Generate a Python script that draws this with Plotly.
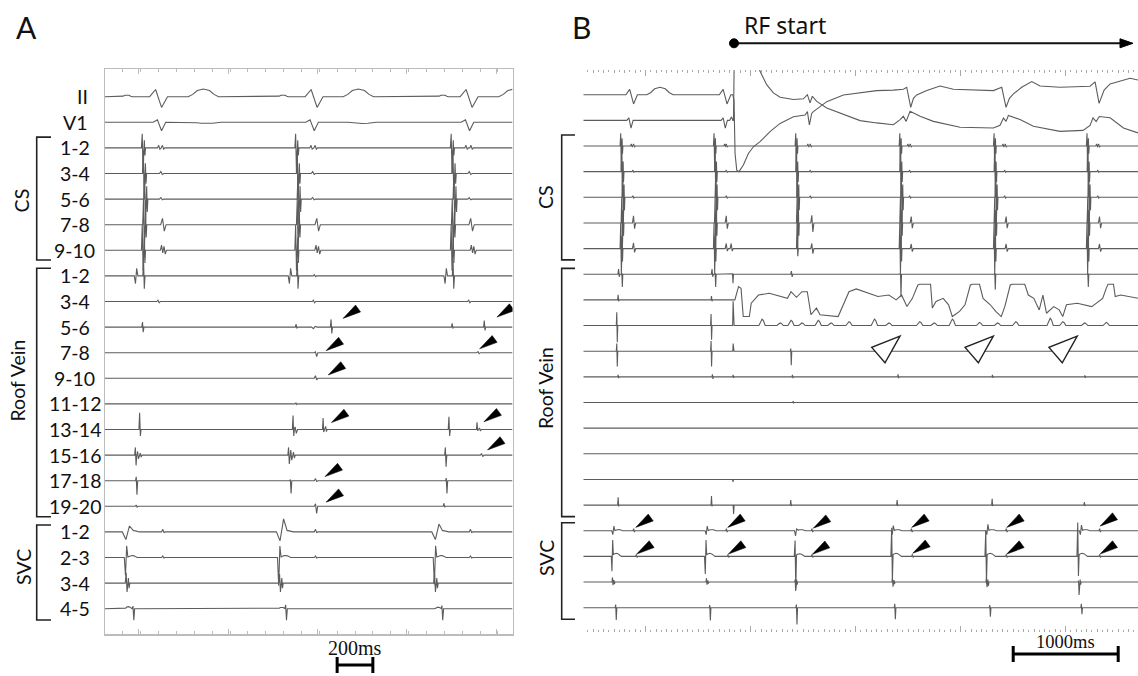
import numpy as np
import plotly.graph_objects as go

W, H = 1138, 676

# ---------------- channel layout ----------------
LABELS = ["II", "V1", "1-2", "3-4", "5-6", "7-8", "9-10",
          "1-2", "3-4", "5-6", "7-8", "9-10", "11-12", "13-14", "15-16", "17-18", "19-20",
          "1-2", "2-3", "3-4", "4-5"]
GROUP_NAMES = ["CS", "Roof Vein", "SVC"]
GROUP_FIRST = [2, 7, 17]
GROUP_LAST = [6, 16, 20]

# events: spike = (t_ms, first_extreme, second_extreme, width_ms); bump = (t_ms, amp, width_ms)
# ---------------- Panel A (sinus rhythm) ----------------
A_II = [(300, 0.28, -0.42, 100), (1171, 0.28, -0.42, 100), (2039, 0.28, -0.42, 100),
        (551, 0.30, 170), (1419, 0.30, 170), (2290, 0.30, 170),
        (123, 0.07, 60), (997, 0.07, 60), (1893, 0.07, 60)]
A_V1 = [(305, 0.10, -0.33, 70), (1160, 0.10, -0.33, 70), (2030, 0.10, -0.33, 70),
        (570, -0.05, 160), (1440, -0.05, 160)]
A_CS12 = [(211, 0.55, -1.0, 14), (222, 0.3, -0.3, 10), (304, 0.10, -0.05, 20), (325, 0.10, -0.05, 20),
          (1070, 0.55, -1.0, 14), (1081, 0.3, -0.3, 10), (1157, 0.10, -0.05, 20), (1180, 0.10, -0.05, 20),
          (1941, 0.55, -1.0, 14), (1952, 0.3, -0.3, 10), (2025, 0.10, -0.05, 20), (2053, 0.10, -0.05, 20)]
A_CS34 = [(217, 0.9, -1.0, 14), (228, 0.4, -0.4, 10), (317, 0.08, -0.04, 25),
          (1079, 0.9, -1.0, 14), (1090, 0.4, -0.4, 10), (1167, 0.08, -0.04, 25),
          (1951, 0.9, -1.0, 14), (1962, 0.4, -0.4, 10), (2044, 0.08, -0.04, 25)]
A_CS56 = [(224, 1.0, -1.0, 14), (235, 0.5, -0.5, 10), (317, 0.06, -0.03, 25),
          (1083, 1.0, -1.0, 14), (1094, 0.5, -0.5, 10), (1167, 0.06, -0.03, 25),
          (1956, 1.0, -1.0, 14), (1967, 0.5, -0.5, 10), (2044, 0.06, -0.03, 25)]
A_CS78 = [(218, 1.0, -1.0, 14), (229, 0.5, -0.5, 10), (327, 0.25, -0.25, 30),
          (1079, 1.0, -1.0, 14), (1090, 0.5, -0.5, 10), (1191, 0.25, -0.25, 30),
          (1947, 1.0, -1.0, 14), (1958, 0.5, -0.5, 10), (2053, 0.25, -0.25, 30)]
A_CS910 = [(211, 1.0, -0.8, 14), (222, 0.5, -0.5, 10), (320, 0.2, -0.1, 20), (334, 0.15, -0.15, 20),
           (1070, 1.0, -0.8, 14), (1081, 0.5, -0.5, 10), (1185, 0.2, -0.1, 20), (1199, 0.15, -0.15, 20),
           (1941, 1.0, -0.8, 14), (1952, 0.5, -0.5, 10), (2055, 0.2, -0.1, 20), (2069, 0.15, -0.15, 20)]
A_R12 = [(174, -0.3, 0.3, 20), (218, 0.6, -0.5, 12), (1036, -0.3, 0.3, 20), (1079, 0.6, -0.5, 12),
         (1176, 0.05, -0.03, 20), (1908, -0.3, 0.3, 20), (1951, 0.6, -0.5, 12)]
A_R34 = [(300, 0.05, -0.05, 20), (1170, 0.05, -0.05, 20), (2040, 0.05, -0.05, 20)]
A_R56 = [(212, 0.2, -0.2, 12), (1072, 0.12, -0.05, 12), (1172, -0.06, 0.03, 30),
         (1268, 0.3, -0.25, 12), (1946, 0.15, -0.05, 12), (2126, 0.26, -0.13, 12)]
A_R78 = [(1182, 0.03, -0.15, 20), (2092, 0.04, -0.04, 20)]
A_R910 = [(1182, 0.1, -0.06, 20)]
A_R1112 = [(1072, 0.04, -0.03, 15)]
A_R1314 = [(196, 0.65, -0.25, 12), (1055, 0.55, -0.25, 12), (1068, 0.1, -0.15, 20), (1223, 0.45, -0.1, 10),
           (1238, 0.12, -0.08, 12), (1928, 0.5, -0.25, 12), (2085, 0.28, -0.05, 10), (2100, 0.06, -0.06, 15)]
A_R1516 = [(172, 0.3, -0.4, 12), (185, 0.15, -0.15, 15), (200, 0.08, -0.08, 15),
           (1030, 0.3, -0.35, 12), (1043, 0.2, -0.2, 15), (1058, 0.12, -0.12, 15),
           (1908, 0.3, -0.45, 12), (2112, 0.06, -0.06, 20)]
A_R1718 = [(177, 0.15, -0.55, 12), (1040, 0.05, -0.5, 12), (1182, 0.08, -0.03, 20), (1913, 0.1, -0.5, 12)]
A_R1920 = [(177, 0.05, -0.03, 15), (1182, 0.1, -0.28, 18), (1900, 0.12, -0.03, 12)]
A_SVC12 = [(127, -0.3, 0.22, 60), (160, 0.05, 60), (327, 0.1, -0.02, 20),
           (990, -0.35, 0.5, 60), (1025, 0.05, 60), (1182, 0.1, -0.02, 20),
           (1860, -0.3, 0.3, 60), (1895, 0.05, 60), (2050, 0.1, -0.02, 20)]
A_SVC23 = [(118, -0.7, 0.45, 20), (150, 0.08, 60), (327, 0.06, -0.02, 20),
           (976, -1.1, 0.45, 20), (1010, 0.08, 60), (1182, 0.06, -0.02, 20),
           (1848, -1.05, 0.45, 20), (1880, 0.08, 60), (2050, 0.06, -0.02, 20)]
A_SVC34 = [(121, 0.4, -0.35, 15), (133, 0.2, -0.2, 12), (980, 0.35, -0.35, 15), (992, 0.2, -0.2, 12),
           (1848, 0.35, -0.35, 15), (1860, 0.2, -0.2, 12)]
A_SVC45 = [(130, 0.08, 40), (159, 0.1, -0.45, 14), (990, 0.06, 40), (1014, 0.15, -0.45, 14),
           (1865, 0.06, 40), (1889, 0.12, -0.45, 14)]
A_RANGE_MS = [0, 2282]
A_ARROW_T = [1333, 2195, 1238, 2098, 1250, 1268, 2122, 2142, 1232, 1238]
A_ARROW_Y = [-8.66, -8.61, -9.92, -9.85, -10.87, -12.73, -12.70, -13.80, -14.84, -15.84]
A_SCALE_MS = [1300, 1500]

# ---------------- Panel B (during RF application) ----------------
RF_START_MS = 1841
RF_ARROW_END_MS = 5641
B_II = [(866, 0.21, -0.36, 110), (1756, 0.21, -0.36, 110), (1136, 0.29, 250)]
B_II_RF_T = [1829, 1841, 1851, 1867, 1889, 1930, 1978, 2026, 2089, 2184, 2280, 2407, 2518, 2540, 2559,
             2581, 2597, 2724, 2883, 3042, 3200, 3359, 3454, 3486, 3524, 3550, 3581, 3677, 3803, 3930,
             4311, 4391, 4432, 4464, 4502, 4581, 4677, 4756, 4946, 5232, 5280, 5318, 5366, 5423, 5613, 5689]
B_II_RF_V = [0, -0.21, -2.29, -2.94, -3.0, -2.74, -2.29, -2.03, -1.83, -1.44, -1.12, -0.86, -0.79, -0.66, -1.18,
             -0.73, -0.66, -0.27, -0.01, 0.08, 0.16, 0.18, 0.21, 0.29, -0.49, -0.14, -0.01, 0.16, 0.34, 0.21,
             0.16, 0.29, -0.49, -0.14, 0.03, 0.29, 0.51, 0.34, 0.29, 0.33, 0.5, -0.34, 0.18, 0.42, 0.64, 0.57]
B_V1 = [(850, 0.1, -0.3, 60), (1748, 0.1, -0.3, 60), (1815, 0.12, 30)]
B_V1_RF_T = [1836, 1844, 1962, 2057, 2089, 2152, 2216, 2280, 2407, 2502, 2540, 2565, 2587, 2629, 2724,
             2883, 3042, 3200, 3359, 3423, 3454, 3480, 3518, 3613, 3740, 3994, 4311, 4375, 4407, 4432,
             4454, 4565, 4692, 4946, 5165, 5232, 5260, 5290, 5320, 5423, 5550, 5689]
B_V1_RF_V = [0, 2.7, 3.1, 2.3, 1.91, 1.39, 1.07, 0.9, 0.81, 0.84, 1.0, 0.68, 0.94, 0.74, 0.48,
             0.22, -0.01, -0.10, -0.17, 0.03, 0.16, -0.04, 0.35, 0.16, -0.04, -0.27, -0.30, -0.19, 0.09, -0.04,
             0.19, 0.03, -0.23, -0.43, -0.39, -0.2, 0.1, -0.05, 0.15, 0.1, -0.3, -0.49]
B_CS12 = [(765, 0.5, -1.0, 18), (777, 0.3, -0.3, 12), (867, 0.08, -0.04, 25), (889, 0.08, -0.04, 25),
          (1654, 0.5, -1.0, 18), (1666, 0.3, -0.3, 12), (1756, 0.08, -0.04, 25), (1772, 0.08, -0.04, 25),
          (2432, 0.5, -1.0, 18), (2444, 0.3, -0.3, 12), (2549, 0.08, -0.04, 25), (2572, 0.08, -0.04, 25),
          (3423, 0.5, -1.0, 18), (3435, 0.3, -0.3, 12), (3502, 0.08, -0.04, 25), (3524, 0.08, -0.04, 25),
          (4321, 0.5, -1.0, 18), (4333, 0.3, -0.3, 12), (4407, 0.08, -0.04, 25), (4429, 0.08, -0.04, 25),
          (5206, 0.5, -1.0, 18), (5218, 0.3, -0.3, 12), (5299, 0.08, -0.04, 25), (5318, 0.08, -0.04, 25)]
B_CS34 = [(775, 0.9, -1.0, 18), (787, 0.4, -0.4, 12), (882, 0.06, -0.03, 25),
          (1664, 0.9, -1.0, 18), (1676, 0.4, -0.4, 12), (1772, 0.06, -0.03, 25),
          (2438, 0.9, -1.0, 18), (2450, 0.4, -0.4, 12), (2572, 0.06, -0.03, 25),
          (3429, 0.9, -1.0, 18), (3441, 0.4, -0.4, 12), (3518, 0.06, -0.03, 25),
          (4327, 0.9, -1.0, 18), (4339, 0.4, -0.4, 12), (4423, 0.06, -0.03, 25),
          (5213, 0.9, -1.0, 18), (5225, 0.4, -0.4, 12), (5310, 0.06, -0.03, 25)]
B_CS56 = [(784, 1.0, -1.0, 18), (796, 0.5, -0.5, 12), (882, 0.06, -0.03, 25),
          (1670, 1.0, -1.0, 18), (1682, 0.5, -0.5, 12), (1772, 0.06, -0.03, 25),
          (2448, 1.0, -1.0, 18), (2460, 0.5, -0.5, 12), (2572, 0.06, -0.03, 25),
          (3438, 1.0, -1.0, 18), (3450, 0.5, -0.5, 12), (3518, 0.06, -0.03, 25),
          (4337, 1.0, -1.0, 18), (4349, 0.5, -0.5, 12), (4423, 0.06, -0.03, 25),
          (5222, 1.0, -1.0, 18), (5234, 0.5, -0.5, 12), (5310, 0.06, -0.03, 25)]
B_CS78 = [(775, 1.0, -1.0, 18), (787, 0.5, -0.5, 12), (889, 0.28, -0.22, 30),
          (1664, 1.0, -1.0, 18), (1676, 0.5, -0.5, 12), (1772, 0.28, -0.22, 30),
          (2445, 1.0, -1.0, 18), (2457, 0.5, -0.5, 12), (2587, 0.3, -0.35, 30),
          (3429, 1.0, -1.0, 18), (3441, 0.5, -0.5, 12), (3534, 0.25, -0.2, 30),
          (4327, 1.0, -1.0, 18), (4339, 0.5, -0.5, 12), (4438, 0.25, -0.2, 30),
          (5213, 1.0, -1.0, 18), (5225, 0.5, -0.5, 12), (5327, 0.25, -0.2, 30)]
B_CS910 = [(765, 1.0, -1.0, 18), (777, 0.5, -0.5, 12), (889, 0.22, -0.15, 30),
           (1654, 1.0, -1.0, 18), (1666, 0.5, -0.5, 12), (1772, 0.2, -0.1, 30), (1819, 0.2, -0.1, 30),
           (2445, 1.0, -0.3, 18), (2587, 0.2, -0.2, 30),
           (3423, 1.0, -1.0, 18), (3435, 0.5, -0.5, 12), (3534, 0.18, -0.12, 30),
           (4321, 1.0, -1.0, 18), (4333, 0.5, -0.5, 12), (4438, 0.18, -0.12, 30),
           (5206, 1.0, -1.0, 18), (5218, 0.5, -0.5, 12), (5327, 0.18, -0.12, 30)]
B_R12 = [(745, 0.2, -0.1, 20), (775, 0.05, -0.5, 14), (1635, 0.2, -0.1, 20), (1664, 0.05, -0.5, 14),
         (1829, 0.02, -0.35, 14), (2391, 0.12, -0.1, 20), (3429, 0.05, -0.9, 14), (4327, 0.05, -0.6, 14),
         (5213, 0.05, -0.5, 14)]
B_R34 = [(740, 0.2, -0.05, 15), (1629, 0.15, -0.05, 15)]
B_R34_RF_T = [1849, 1873, 1884, 1908, 1929, 1987, 2005, 2074, 2177, 2350, 2384, 2436, 2488, 2539, 2574,
              2626, 2660, 2833, 2936, 3005, 3212, 3316, 3385, 3437, 3488, 3540, 3592, 3609, 3713, 3730,
              3765, 3833, 3885, 3920, 3989, 4041, 4092, 4110, 4179, 4213, 4282, 4334, 4386, 4420, 4472,
              4489, 4610, 4644, 4696, 4748, 4783, 4817, 4886, 4938, 4972, 5007, 5110, 5248, 5352, 5386,
              5403, 5455, 5472, 5524, 5690]
B_R34_RF_V = [0, 0.4, 0.52, 0.45, -0.65, -0.65, -0.13, 0.19, 0.26, 0.06, 0.32, 0.1, 0.32, 0.32, -0.58,
              -0.32, -0.58, -0.65, 0.32, 0.43, 0.13, 0.19, 0, 0.19, -0.26, 0.06, 0.58, 0.61, 0.61, -0.32,
              -0.06, 0.06, -0.19, -0.65, -0.45, -0.19, 0.58, 0.61, 0.61, 0.06, -0.19, -0.45, -0.65, -0.26, 0.58,
              0.61, 0.61, 0.19, 0.06, -0.39, 0.19, -0.52, -0.26, -0.39, -0.65, -0.19, -0.13, -0.26, 0.06, 0.45,
              0.61, 0.61, 0.13, 0.19, 0.06]
B_R56 = [(727, 0.52, -0.65, 14), (1625, 0.45, -0.55, 14), (1835, 0.95, 0.0, 14),
         (2108, 0.25, 60), (2280, 0.1, 60), (2384, 0.2, 60), (2488, 0.1, 60), (2643, 0.2, 60),
         (2764, 0.1, 60), (2936, 0.15, 60), (3178, 0.25, 60), (3316, 0.1, 60), (3609, 0.15, 60),
         (3747, 0.1, 60), (3920, 0.25, 60), (4179, 0.12, 60), (4351, 0.1, 60), (4524, 0.15, 60),
         (4852, 0.28, 60), (4972, 0.15, 60), (5180, 0.1, 60), (5386, 0.12, 60)]
B_R78 = [(727, 0.3, -0.6, 14), (1625, 0.4, -0.6, 14), (1835, 0.3, 0.0, 12), (2384, 0.1, -0.55, 14)]
B_R910 = [(740, 0.08, -0.05, 15), (1638, 0.1, -0.08, 15), (1835, 0.08, -0.04, 15), (2400, 0.08, -0.05, 15),
          (3406, 0.1, -0.05, 15), (4305, 0.08, -0.04, 15), (5185, 0.06, -0.04, 15)]
B_R1112 = [(2407, 0.05, -0.03, 15)]
B_R1314 = []
B_R1516 = []
B_R1718 = [(1829, 0.0, -0.1, 15)]
B_R1920 = [(740, 0.3, -0.05, 14), (1629, 0.35, -0.05, 14), (1835, 0.0, -0.35, 14), (2384, 0.2, -0.03, 14),
           (3397, 0.2, -0.03, 14), (4302, 0.25, -0.03, 14), (5180, 0.12, -0.03, 14)]
B_SVC12 = [(692, -0.15, 0.18, 30), (740, 0.05, 80), (889, 0.08, -0.05, 20),
           (1581, -0.15, 0.18, 30), (1630, 0.05, 80), (1772, 0.08, -0.05, 20),
           (2432, -0.2, 0.08, 30), (2480, 0.05, 80), (2587, 0.08, -0.05, 20),
           (3353, -0.15, 0.2, 30), (3400, 0.05, 80), (3534, 0.08, -0.05, 20),
           (4254, -0.15, 0.25, 30), (4300, 0.05, 80), (4438, 0.08, -0.05, 20),
           (5145, -0.15, 0.22, 30), (5190, 0.05, 80), (5327, 0.08, -0.05, 20)]
B_SVC23 = [(682, -0.6, 0.6, 20), (720, 0.12, 100), (914, 0.08, -0.04, 20),
           (1571, -0.7, 0.6, 20), (1610, 0.12, 100), (1787, 0.08, -0.04, 20),
           (2426, 0.6, -1.3, 20), (2465, 0.1, 100), (2587, 0.08, -0.04, 20),
           (3346, 1.1, -1.0, 20), (3385, 0.12, 100), (3543, 0.08, -0.04, 20),
           (4242, 1.0, -1.1, 20), (4281, 0.12, 100), (4438, 0.08, -0.04, 20),
           (5118, 1.3, -0.8, 20), (5157, 0.12, 100), (5327, 0.08, -0.04, 20)]
B_SVC34 = [(686, 0.18, -0.12, 14), (700, 0.08, -0.08, 14), (1581, 0.15, -0.1, 14), (1595, 0.06, -0.06, 14),
           (2426, 0.1, -0.35, 14), (2440, 0.1, -0.1, 14), (3353, 0.15, -0.18, 14), (3367, 0.08, -0.08, 14),
           (4248, 0.15, -0.2, 14), (4262, 0.1, -0.15, 14), (5125, 0.05, -0.5, 14), (5140, 0.1, -0.1, 14)]
B_SVC45 = [(717, 0.12, -0.48, 16), (1613, 0.1, -0.5, 16), (2438, 0.12, -0.65, 16), (3375, 0.15, -0.45, 16),
           (4280, 0.1, -0.35, 16), (5152, 0.15, -0.25, 16)]
B_RANGE_MS = [405.7, 5688.6]
B_ARROW_T = [905, 1781, 2596, 3533, 4438, 5327, 914, 1787, 2587, 3543, 4438, 5327]
B_ARROW_Y = [-16.87, -16.87, -16.90, -16.87, -16.87, -16.82, -17.91, -17.91, -17.92, -17.88, -17.91, -17.91]
B_OPEN_T = [3422, 4311, 5110]
B_OPEN_Y = [-9.41, -9.41, -9.41]
B_SCALE_MS = [4500, 5500]

A_CHANNELS = [A_II, A_V1, A_CS12, A_CS34, A_CS56, A_CS78, A_CS910, A_R12, A_R34, A_R56, A_R78, A_R910,
              A_R1112, A_R1314, A_R1516, A_R1718, A_R1920, A_SVC12, A_SVC23, A_SVC34, A_SVC45]
B_CHANNELS = [B_II, B_V1, B_CS12, B_CS34, B_CS56, B_CS78, B_CS910, B_R12, B_R34, B_R56, B_R78, B_R910,
              B_R1112, B_R1314, B_R1516, B_R1718, B_R1920, B_SVC12, B_SVC23, B_SVC34, B_SVC45]
B_POLY = {0: (B_II_RF_T, B_II_RF_V), 1: (B_V1_RF_T, B_V1_RF_V), 8: (B_R34_RF_T, B_R34_RF_V)}

BUMP_F = [-0.5, -0.35, -0.2, 0.0, 0.2, 0.35, 0.5]
BUMP_V = [0.0, 0.3, 0.8, 1.0, 0.8, 0.3, 0.0]


def signal(events, t0, t1, poly=None):
    parts = []
    for ev in events:
        if len(ev) == 4:
            t, a1, a2, w = ev
            parts.append(([t - w / 2, t - w / 6, t + w / 6, t + w / 2], [0.0, a1, a2, 0.0], 0.0))
        else:
            t, a, w = ev
            parts.append(([t + f * w for f in BUMP_F], [a * v for v in BUMP_V], 0.0))
    if poly is not None:
        parts.append((list(poly[0]), list(poly[1]), poly[1][-1]))
    knots = sorted(set([t0, t1] + [k for p in parts for k in p[0]]))
    knots = np.array([k for k in knots if t0 <= k <= t1], dtype=float)
    y = np.zeros_like(knots)
    for kt, kv, right in parts:
        y += np.interp(knots, kt, kv, left=0.0, right=right)
    return knots, y


LINE = dict(color="#5c5c5c", width=1.1)
fig = go.Figure()
for i, ev in enumerate(A_CHANNELS):
    t, v = signal(ev, A_RANGE_MS[0], A_RANGE_MS[1])
    fig.add_trace(go.Scatter(x=t, y=v - i, mode="lines", line=LINE, xaxis="x", yaxis="y",
                             hoverinfo="skip", showlegend=False))
for i, ev in enumerate(B_CHANNELS):
    t, v = signal(ev, B_RANGE_MS[0], B_RANGE_MS[1], B_POLY.get(i))
    fig.add_trace(go.Scatter(x=t, y=v - i, mode="lines", line=LINE, xaxis="x2", yaxis="y2",
                             hoverinfo="skip", showlegend=False))
# helper invisible trace so the overlay tick axis is drawn
fig.add_trace(go.Scatter(x=[B_RANGE_MS[0]], y=[0], mode="markers", marker=dict(opacity=0),
                         xaxis="x3", yaxis="y2", hoverinfo="skip", showlegend=False))

FRAME = "#bcbcbc"
TICKB = "#a8a8a8"
fig.update_layout(
    width=W, height=H, margin=dict(l=0, r=0, t=0, b=0),
    paper_bgcolor="white", plot_bgcolor="white", showlegend=False,
    xaxis=dict(domain=[105 / W, 512.5 / W], range=A_RANGE_MS, anchor="y", showline=True, linecolor=FRAME,
               linewidth=1.5, mirror="ticks", ticks="inside", ticklen=5, tickcolor=FRAME, tickwidth=1,
               tick0=190, dtick=500, showticklabels=False, showgrid=False, zeroline=False,
               minor=dict(ticks="inside", dtick=100, ticklen=3, tickcolor=FRAME, tickwidth=1, showgrid=False)),
    yaxis=dict(domain=[1 - 634.3 / H, 1 - 69.3 / H], range=[-21.0, 1.07], anchor="x", showline=True,
               linecolor=FRAME, linewidth=1.5, mirror=True, ticks="", showticklabels=False,
               showgrid=False, zeroline=False),
    xaxis2=dict(domain=[583.3 / W, 1.0], range=B_RANGE_MS, anchor="y2", showline=False, mirror="ticks",
                ticks="inside", ticklen=6, tickcolor=TICKB, tickwidth=1, tick0=0, dtick=1000,
                showticklabels=False, showgrid=False, zeroline=False,
                minor=dict(ticks="inside", dtick=100, ticklen=3, tickcolor=TICKB, tickwidth=1, showgrid=False)),
    xaxis3=dict(overlaying="x2", range=B_RANGE_MS, anchor="y2", showline=False, mirror="ticks",
                ticks="inside", ticklen=1.5, tickcolor=TICKB, tickwidth=1, tick0=0, dtick=50,
                showticklabels=False, showgrid=False, zeroline=False),
    yaxis2=dict(domain=[1 - 631.7 / H, 1 - 70 / H], range=[-20.936, 0.963], anchor="x2", showline=False,
                ticks="", showticklabels=False, showgrid=False, zeroline=False),
)

SANS = "Lato"
annotations = []
shapes = []
# channel labels (panel A)
for i, lab in enumerate(LABELS):
    if i < 2:
        annotations.append(dict(x=90 / W, xref="paper", y=-i, yref="y", text=lab, showarrow=False,
                                xanchor="right", yanchor="middle", font=dict(family=SANS, size=19.5, color="#111")))
    else:
        annotations.append(dict(x=74.5 / W, xref="paper", y=-i, yref="y", text=lab, showarrow=False,
                                xanchor="center", yanchor="middle", font=dict(family=SANS, size=19.5, color="#111")))

# group labels and brackets
GROUP_LABEL_A = [(21.7, 200.7), (17, 380.5), (23, 567)]
GROUP_LABEL_B = [(545, 197), (545, 388), (546, 558)]
BR_A = [(0.42, 0.38), (0.30, 0.41), (0.27, 0.44)]
BR_B = [(0.43, 0.44), (0.23, 0.45), (0.31, 0.45)]
for g, name in enumerate(GROUP_NAMES):
    for (lx, ly), (top, bot), yref, bx, arm in [(GROUP_LABEL_A[g], BR_A[g], "y", 36.7, 51.0),
                                                 (GROUP_LABEL_B[g], BR_B[g], "y2", 561.7, 575.0)]:
        annotations.append(dict(x=lx / W, y=1 - ly / H, xref="paper", yref="paper", text=name, textangle=-90,
                                showarrow=False, xanchor="center", yanchor="middle",
                                font=dict(family=SANS, size=19.5, color="#111")))
        y0 = -GROUP_FIRST[g] + top
        y1 = -GROUP_LAST[g] - bot
        shapes.append(dict(type="path", xref="paper", yref=yref,
                           path=f"M{arm / W},{y0} L{bx / W},{y0} L{bx / W},{y1} L{arm / W},{y1}",
                           line=dict(color="#222", width=1.6)))

# filled arrowheads
ARROW_PATH = "M0,0 L12.5,13.3 L17.5,6.5 Z"
for t, y in zip(A_ARROW_T, A_ARROW_Y):
    shapes.append(dict(type="path", xref="x", yref="y", xsizemode="pixel", ysizemode="pixel",
                       xanchor=t, yanchor=y, path=ARROW_PATH, fillcolor="black",
                       line=dict(color="black", width=0.5)))
for t, y in zip(B_ARROW_T, B_ARROW_Y):
    shapes.append(dict(type="path", xref="x2", yref="y2", xsizemode="pixel", ysizemode="pixel",
                       xanchor=t, yanchor=y, path=ARROW_PATH, fillcolor="black",
                       line=dict(color="black", width=0.5)))
# open arrowheads
OPEN_PATH = "M0,0 L-28.3,-11.3 L-15,-26.7 Z"
for t, y in zip(B_OPEN_T, B_OPEN_Y):
    shapes.append(dict(type="path", xref="x2", yref="y2", xsizemode="pixel", ysizemode="pixel",
                       xanchor=t, yanchor=y, path=OPEN_PATH, fillcolor="white",
                       line=dict(color="#222", width=1.4)))

# RF start marker
rf_y = 1 - 43.3 / H
head_ms = 13 * (B_RANGE_MS[1] - B_RANGE_MS[0]) / (W - 583.3)   # 13 px expressed in ms
shapes.append(dict(type="line", xref="x2", yref="paper", x0=RF_START_MS, x1=RF_ARROW_END_MS - head_ms * 0.6,
                   y0=rf_y, y1=rf_y, line=dict(color="#111", width=2)))
shapes.append(dict(type="circle", xref="x2", yref="paper", xsizemode="pixel", ysizemode="pixel",
                   xanchor=RF_START_MS, yanchor=rf_y, x0=-4.5, x1=4.5, y0=-4.5, y1=4.5,
                   fillcolor="black", line=dict(color="black", width=1)))
shapes.append(dict(type="path", xref="x2", yref="paper",
                   path=(f"M{RF_ARROW_END_MS},{rf_y} L{RF_ARROW_END_MS - head_ms},{rf_y + 4.5 / H} "
                         f"L{RF_ARROW_END_MS - head_ms},{rf_y - 4.5 / H} Z"),
                   fillcolor="black", line=dict(color="black", width=1)))
annotations.append(dict(x=RF_START_MS, xref="x2", xshift=8, y=1 - 25 / H, yref="paper", text="RF start",
                        showarrow=False, xanchor="left", yanchor="middle",
                        font=dict(family="Noto Sans", size=23, color="#111")))

# scale bars
for (a, b), xref, ypx, label, lpy, fs in [(A_SCALE_MS, "x", 665, "200ms", 648, 20),
                                           (B_SCALE_MS, "x2", 654, "1000ms", 642, 18.5)]:
    yb = 1 - ypx / H
    dh = 8 / H
    shapes.append(dict(type="path", xref=xref, yref="paper",
                       path=f"M{a},{yb - dh} L{a},{yb + dh} M{a},{yb} L{b},{yb} M{b},{yb - dh} L{b},{yb + dh}",
                       line=dict(color="black", width=3)))
    annotations.append(dict(x=(a + b) / 2, xref=xref, y=1 - lpy / H, yref="paper", text=label, showarrow=False,
                            xanchor="center", yanchor="middle",
                            font=dict(family="Liberation Serif", size=fs, color="#111")))

# panel letters
annotations.append(dict(x=26.5 / W, y=1 - 27 / H, xref="paper", yref="paper", text="A", showarrow=False,
                        xanchor="center", yanchor="middle", font=dict(family=SANS, size=30, color="#111")))
annotations.append(dict(x=581 / W, y=1 - 27 / H, xref="paper", yref="paper", text="B", showarrow=False,
                        xanchor="center", yanchor="middle", font=dict(family=SANS, size=30, color="#111")))

fig.update_layout(annotations=annotations, shapes=shapes)
fig.write_html("out.html", config={"displayModeBar": False, "staticPlot": True},
               post_script="document.body.style.margin='0';document.body.style.overflow='hidden';")
